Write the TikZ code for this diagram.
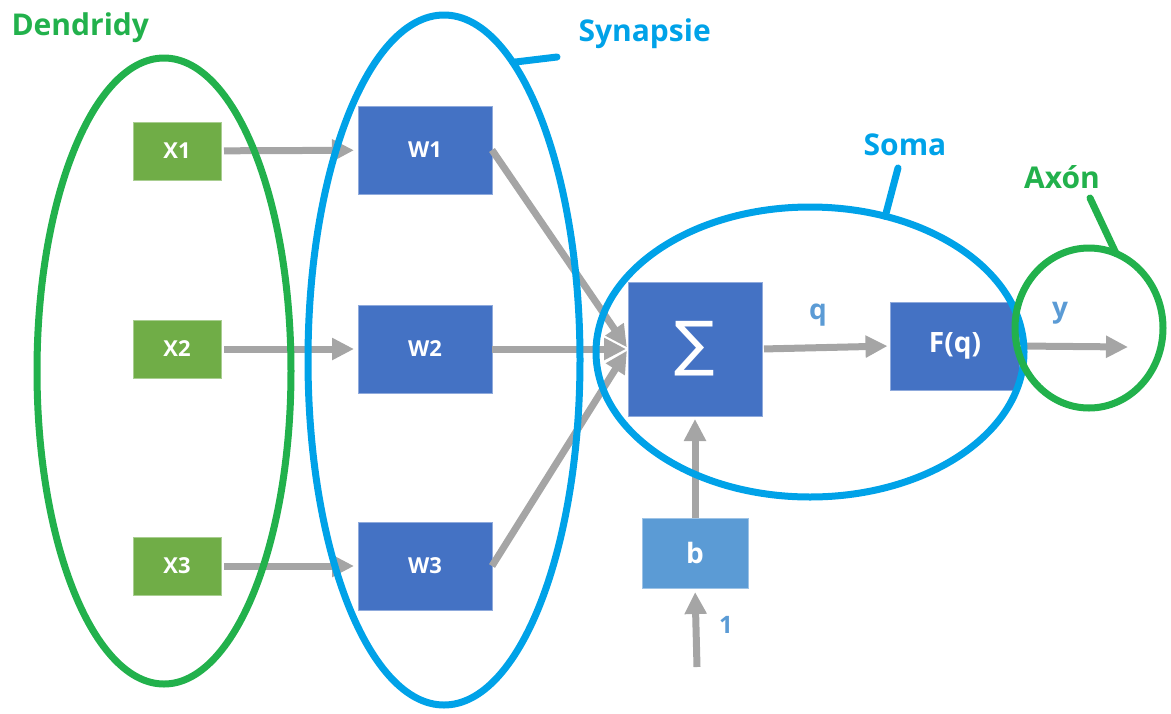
\documentclass[tikz,border=0pt]{standalone}
\usepackage{fontspec}
\setmainfont{Open Sans}
\newfontfamily\symfont{DejaVu Sans}
\usetikzlibrary{arrows.meta,shapes.geometric}

\definecolor{xgreen}{HTML}{70AD47}
\definecolor{wblue}{HTML}{4472C4}
\definecolor{bblue}{HTML}{5B9BD5}
\definecolor{flowgray}{HTML}{A5A5A5}
\definecolor{ringgreen}{HTML}{22B14C}
\definecolor{ringblue}{HTML}{00A2E8}

\begin{document}
\begin{tikzpicture}[x=1pt,y=-1pt,
  box/.style={rectangle, inner sep=0pt, outer sep=0pt, fill=#1,
    draw=#1!60!white, line width=0.8pt, text=white},
  fs/.style={font=\bfseries\fontsize{#1}{#1}\selectfont},
  flow/.style={draw=flowgray, line width=7pt,
    -{Triangle[length=22pt,width=21pt]}},
  ring/.style={ellipse, draw=#1, line width=7pt, inner sep=0pt, outer sep=0pt},
  tick/.style={draw=#1, line width=7pt, line cap=round},
  tag/.style={text=#1, fs=30},
]
\useasboundingbox (0,0) rectangle (1171,713);

% input, weight and processing boxes
\node[box=xgreen, minimum width=88pt, minimum height=58pt, fs=22] (x1) at (177,151) {X1};
\node[box=xgreen, minimum width=88pt, minimum height=58pt, fs=22] (x2) at (177,349) {X2};
\node[box=xgreen, minimum width=88pt, minimum height=58pt, fs=22] (x3) at (177,566) {X3};
\node[box=wblue, minimum width=134pt, minimum height=88pt, fs=22] (w1) at (425,150) {W1};
\node[box=wblue, minimum width=134pt, minimum height=88pt, fs=22] (w2) at (425,349) {W2};
\node[box=wblue, minimum width=134pt, minimum height=88pt, fs=22] (w3) at (425,566) {W3};
\node[box=wblue, minimum width=134pt, minimum height=134pt,
  font=\symfont\fontsize{60}{60}\selectfont] (sig) at (695,349) {∑};
\node[box=wblue, minimum width=129pt, minimum height=88pt, fs=28] (f) at (955,346) {F(q)};
\node[box=bblue, minimum width=106pt, minimum height=70pt, fs=28] (b) at (695,553) {b};

% free ends of the output and bias arrows
\coordinate (yend) at (1128,347);
\coordinate (one) at (697,667);

% connections
\draw[flow, shorten <=3pt, shorten >=4pt] (x1) -- (w1);
\draw[flow, shorten <=3pt, shorten >=4pt] (x2) -- (w2);
\draw[flow, shorten <=3pt, shorten >=4pt] (x3) -- (w3);
\draw[flow, shorten >=2pt] (w1.east) -- (sig.west);
\draw[flow, shorten >=2pt] (w2.east) -- (sig.west);
\draw[flow, shorten >=2pt] (w3.east) -- (sig.west);
\draw[flow, shorten <=2pt, shorten >=3pt] (sig.east) -- (f.west);
\draw[flow, shorten <=2pt] (f.east) -- (yend);
\draw[flow, shorten >=3pt] (b.north) -- (sig.south);
\draw[flow, shorten >=4pt] (one) -- (b.south);

% signal labels
\node[text=bblue, fs=28] (lq) at (818,315) {q};
\node[text=bblue, fs=28] (ly) at (1060,313) {y};
\node[text=bblue, fs=24] (l1) at (726,625) {1};

% outlines of the neuron parts
\node[ring=ringgreen, minimum width=254pt, minimum height=626pt] (dend) at (164,371) {};
\node[ring=ringblue, minimum width=272pt, minimum height=690pt] (syn) at (444,360) {};
\node[ring=ringblue, minimum width=428pt, minimum height=290pt] (soma) at (810,352) {};
\node[ring=ringgreen, minimum width=148pt, minimum height=160pt] (axon) at (1089,328) {};

% part names and their pointers
\node[tag=ringgreen, anchor=west] (tdend) at (8,28) {Dendridy};
\node[tag=ringblue, anchor=west] (tsyn) at (575,34) {Synapsie};
\node[tag=ringblue] (tsoma) at (905,145) {Soma};
\node[tag=ringgreen] (taxon) at (1062,177) {Axón};
\coordinate (synTip) at (557,57);
\coordinate (somaTip) at (898,168);
\coordinate (axonTip) at (1090,198);
\draw[tick=ringblue] (syn.77) -- (synTip);
\draw[tick=ringblue] (soma.61) -- (somaTip);
\draw[tick=ringgreen] (axon.70) -- (axonTip);
\end{tikzpicture}
\end{document}
